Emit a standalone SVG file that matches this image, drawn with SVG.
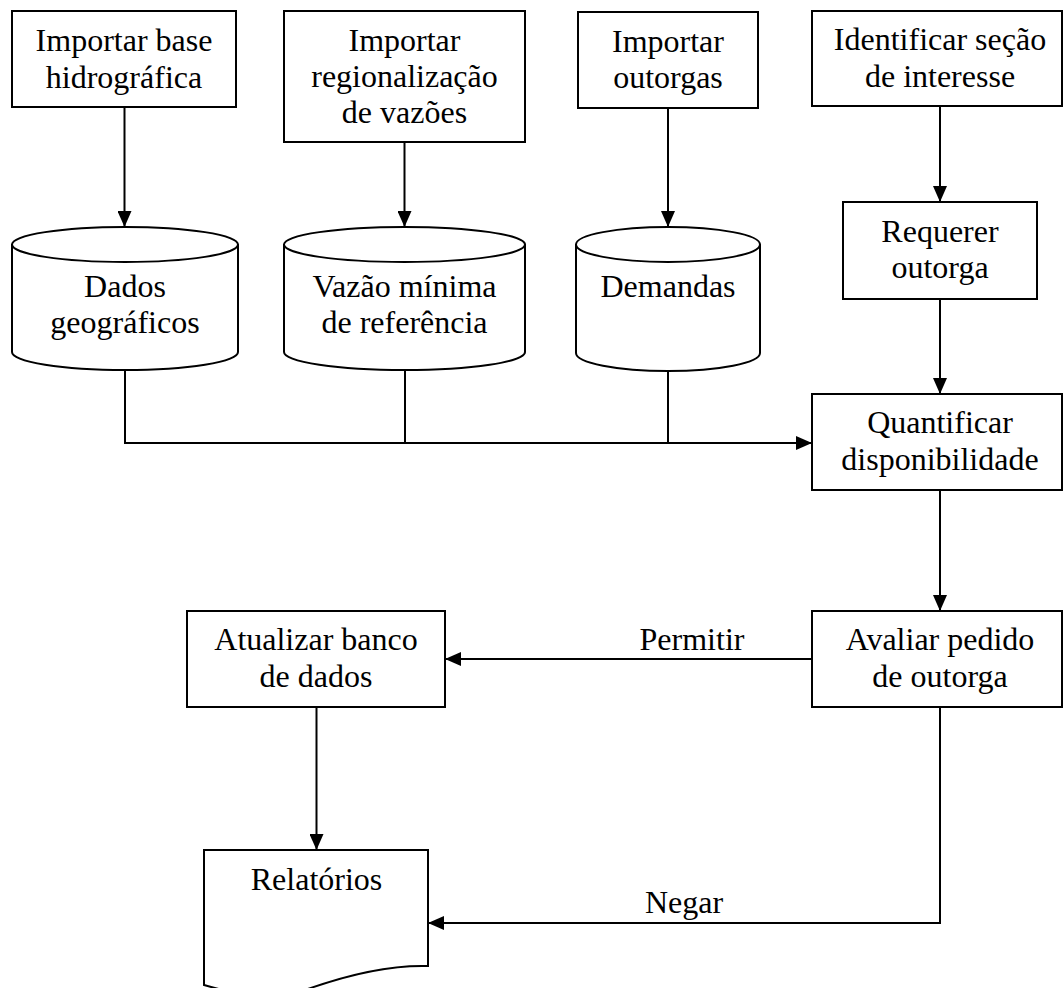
<svg xmlns="http://www.w3.org/2000/svg" width="1063" height="988" viewBox="0 0 1063 988">
<style>
.box{fill:#fff;stroke:#000;stroke-width:2}
.t{font-family:"Liberation Serif","Times New Roman","DejaVu Serif",serif;font-size:32px;fill:#000;text-anchor:middle}
.c{fill:none;stroke:#000;stroke-width:2}
.a{marker-end:url(#ah)}
</style>
<defs>
<marker id="ah" markerWidth="16" markerHeight="14" refX="16" refY="7" orient="auto" markerUnits="userSpaceOnUse"><path d="M0,0 L16,7 L0,14 Z" fill="#000"/></marker>
</defs>
<g id="connectors">
<line class="c a" x1="124.5" y1="107" x2="124.5" y2="227"/>
<line class="c a" x1="404.5" y1="142" x2="404.5" y2="227"/>
<line class="c a" x1="668" y1="108" x2="668" y2="227"/>
<line class="c a" x1="940" y1="106" x2="940" y2="202"/>
<line class="c" x1="125" y1="370" x2="125" y2="443"/>
<line class="c a" x1="124" y1="443" x2="812" y2="443"/>
<line class="c" x1="405" y1="370" x2="405" y2="443"/>
<line class="c" x1="668" y1="371" x2="668" y2="443"/>
<line class="c a" x1="940" y1="299" x2="940" y2="394"/>
<line class="c a" x1="940" y1="490" x2="940" y2="611"/>
<line class="c a" x1="812" y1="659" x2="445" y2="659"/>
<text class="t" x="692" y="650">Permitir</text>
<line class="c a" x1="316.5" y1="707" x2="316.5" y2="850"/>
<polyline class="c a" points="940,707 940,923 428,923"/>
<text class="t" x="684" y="913">Negar</text>
</g>
<g id="n1">
<rect class="box" x="12" y="11" width="224" height="96"/>
<text class="t" x="124" y="51">Importar base</text>
<text class="t" x="124" y="88">hidrográfica</text>
</g>
<g id="n2">
<rect class="box" x="284" y="11" width="241" height="131"/>
<text class="t" x="404.5" y="51">Importar</text>
<text class="t" x="404.5" y="87">regionalização</text>
<text class="t" x="404.5" y="123">de vazões</text>
</g>
<g id="n3">
<rect class="box" x="578" y="12" width="180" height="96"/>
<text class="t" x="668" y="52">Importar</text>
<text class="t" x="668" y="88">outorgas</text>
</g>
<g id="n4">
<rect class="box" x="812" y="11" width="250" height="95"/>
<text class="t" x="940" y="50">Identificar seção</text>
<text class="t" x="940" y="87">de interesse</text>
</g>
<g id="d1">
<path class="box" d="M12,244.5 V352 A113,18 0 0 0 238,352 V244.5 A113,17.5 0 0 0 12,244.5 Z"/>
<path class="c" d="M12,244.5 A113,17.5 0 0 0 238,244.5"/>
<text class="t" x="125" y="297">Dados</text>
<text class="t" x="125" y="333">geográficos</text>
</g>
<g id="d2">
<path class="box" d="M284,244.5 V352 A120.5,18 0 0 0 525,352 V244.5 A120.5,17.5 0 0 0 284,244.5 Z"/>
<path class="c" d="M284,244.5 A120.5,17.5 0 0 0 525,244.5"/>
<text class="t" x="404.5" y="297">Vazão mínima</text>
<text class="t" x="404.5" y="333">de referência</text>
</g>
<g id="d3">
<path class="box" d="M576,244.5 V353 A92,18 0 0 0 760,353 V244.5 A92,17.5 0 0 0 576,244.5 Z"/>
<path class="c" d="M576,244.5 A92,17.5 0 0 0 760,244.5"/>
<text class="t" x="668" y="297">Demandas</text>
</g>
<g id="n5">
<rect class="box" x="843" y="202" width="194" height="97"/>
<text class="t" x="940" y="242">Requerer</text>
<text class="t" x="940" y="278">outorga</text>
</g>
<g id="n6">
<rect class="box" x="812" y="394" width="250" height="96"/>
<text class="t" x="940" y="433">Quantificar</text>
<text class="t" x="940" y="470">disponibilidade</text>
</g>
<g id="n7">
<rect class="box" x="812" y="611" width="250" height="96"/>
<text class="t" x="940" y="650">Avaliar pedido</text>
<text class="t" x="940" y="687">de outorga</text>
</g>
<g id="n8">
<rect class="box" x="187" y="611" width="258" height="96"/>
<text class="t" x="316" y="650">Atualizar banco</text>
<text class="t" x="316" y="687">de dados</text>
</g>
<g id="n9">
<path class="box" d="M204,850 H428 V966 C395,965 355,972 305,990 C270,1002 235,994 204,985 Z"/>
<text class="t" x="316.5" y="890">Relatórios</text>
</g>
</svg>
